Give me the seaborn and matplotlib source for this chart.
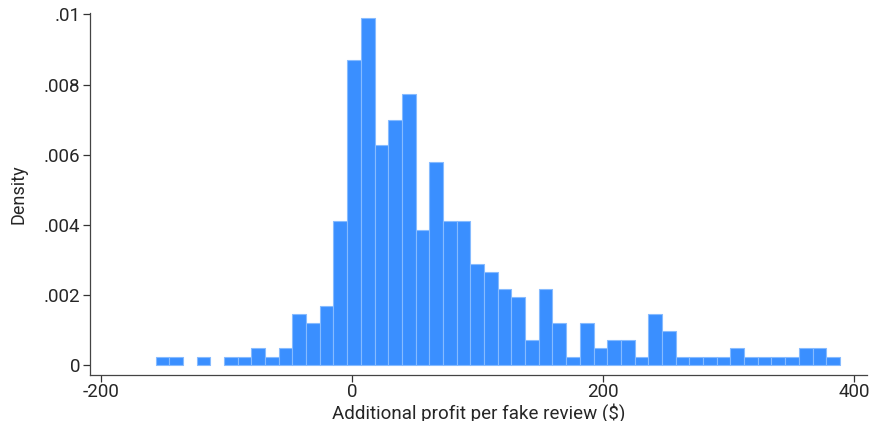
import numpy as np
import pandas as pd
import seaborn as sns
import matplotlib.pyplot as plt

# histogram: 50 equal bins between the min and max of the sample (N = 380)
lo, hi = -156.8, 388.4
counts = [1, 1, 0, 1, 0, 1, 1, 2, 1, 2, 6, 5, 7,
          17, 36, 41, 26, 29, 32, 16, 24, 17, 17,
          12, 11, 9, 8, 3, 9, 5, 1, 5, 2, 3,
          3, 1, 6, 4, 1, 1, 1, 1, 2, 1, 1, 1, 1, 2, 2, 1]
yticks = [0, 0.002, 0.004, 0.006, 0.008, 0.01]
ylabels = ['0', '.002', '.004', '.006', '.008', '.01']
xticks = [-200, 0, 200, 400]

edges = np.linspace(lo, hi, len(counts) + 1)
df = pd.DataFrame({'profit': (edges[:-1] + edges[1:]) / 2, 'n': counts})

sns.set_style('white')
plt.rcParams['font.family'] = ['Roboto', 'DejaVu Sans']

fig = plt.figure(figsize=(8.74, 4.21), dpi=100)
ax = fig.add_axes([0.103, 0.109, 0.889, 0.861])
sns.histplot(data=df, x='profit', weights='n', bins=len(counts), binrange=(lo, hi),
             stat='density', color='#3a8fff', edgecolor='#86bbff',
             linewidth=0.8, alpha=1, ax=ax)
# empty bins should not leave an edge line on the baseline
for p in ax.patches:
    if p.get_height() == 0:
        p.set_visible(False)

ax.set_xlim(-209, 410)
ax.set_ylim(-0.000285, 0.01005)
ax.set_yticks(yticks)
ax.set_yticklabels(ylabels)
ax.set_xticks(xticks)
ax.set_xticklabels([str(t) for t in xticks])
ax.set_xlabel('Additional profit per fake review ($)', fontsize=13.5, labelpad=1)
ax.set_ylabel('Density', fontsize=13, labelpad=12)
ax.tick_params(axis='both', labelsize=13.5, length=5, width=0.9,
               color='#333333', direction='out', pad=1)
ax.tick_params(axis='y', pad=2)
ax.xaxis.set_ticks_position('bottom')
ax.yaxis.set_ticks_position('left')
for s in ['top', 'right']:
    ax.spines[s].set_visible(False)
for s in ['left', 'bottom']:
    ax.spines[s].set_color('#444444')
    ax.spines[s].set_linewidth(0.9)

plt.savefig('out.png', dpi=100)
plt.close()
